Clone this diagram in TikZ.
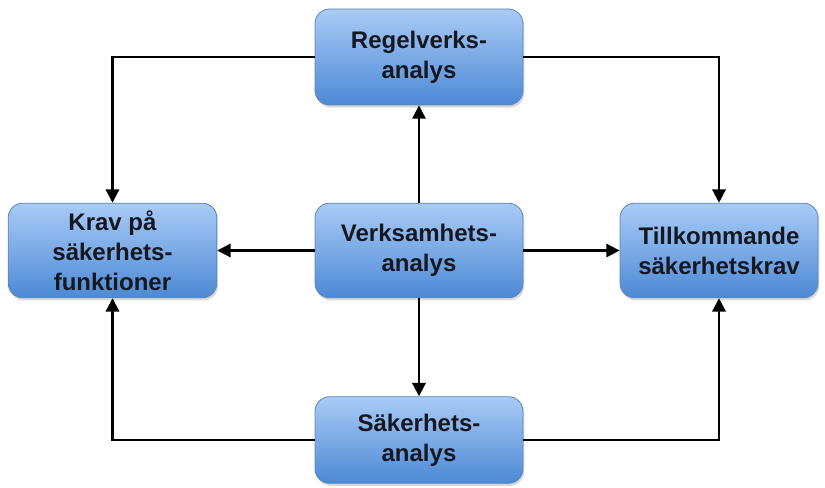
\documentclass[tikz,border=0pt]{standalone}
\usepackage{fontspec}
\setmainfont{Liberation Sans}
\usetikzlibrary{arrows.meta,shadows}
\definecolor{boxtop}{HTML}{A9CBF6}
\definecolor{boxbot}{HTML}{4D89D5}
\definecolor{boxline}{HTML}{5A86C0}
\definecolor{txt}{HTML}{151820}
\tikzset{
  blk/.style={draw=boxline, line width=0.6pt, rounded corners=11pt, top color=boxtop, bottom color=boxbot,
    align=center, font=\bfseries\fontsize{18}{22.5}\selectfont, text=txt,
    drop shadow={shadow xshift=1pt, shadow yshift=-2pt, opacity=0.3}, inner sep=0pt},
  con/.style={line width=1.6pt, -{Triangle[length=10pt,width=10pt]}}
}
\begin{document}
\begin{tikzpicture}[x=0.75pt,y=-0.75pt]
\useasboundingbox (0,0) rectangle (825,488);
\node[blk, minimum width=156pt, minimum height=72pt] (top) at (419,57) {Regelverks-\\analys};
\node[blk, minimum width=156pt, minimum height=71pt] (mid) at (419,250.5) {Verksamhets-\\analys};
\node[blk, minimum width=156pt, minimum height=65pt] (bot) at (419,440) {Säkerhets-\\analys};
\node[blk, minimum width=156.5pt, minimum height=71pt] (lft) at (112.5,250.5) {Krav på\\säkerhets-\\funktioner};
\node[blk, minimum width=148.5pt, minimum height=71pt] (rgt) at (719,250.5) {Tillkommande\\säkerhetskrav};
\draw[con] (top.west) -| (lft.north);
\draw[con] (top.east) -| (rgt.north);
\draw[con] (bot.west) -| (lft.south);
\draw[con] (bot.east) -| (rgt.south);
\draw[con] (mid.north) -- (top.south);
\draw[con] (mid.south) -- (bot.north);
\draw[con] (mid.west) -- (lft.east);
\draw[con] (mid.east) -- (rgt.west);
\end{tikzpicture}
\end{document}
